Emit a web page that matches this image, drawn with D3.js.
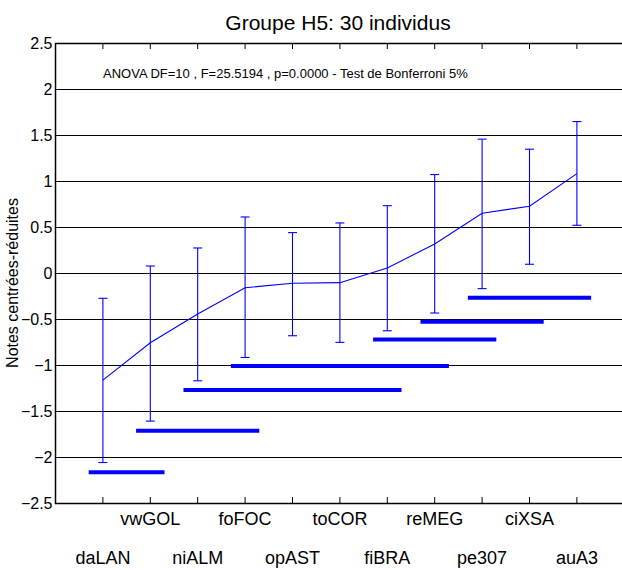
<!DOCTYPE html>
<html>
<head>
<meta charset="utf-8">
<script src="https://cdn.jsdelivr.net/npm/d3@7"></script>
<style>
  html, body { margin: 0; padding: 0; background: #fff; }
  svg { display: block; }
  text { font-family: "Liberation Sans", Arial, Helvetica, sans-serif; fill: #000; }
</style>
</head>
<body>
<svg id="chart" width="622" height="570"></svg>
<script>
// ---- data ----
const categories = ["daLAN","vwGOL","niALM","foFOC","opAST","toCOR","fiBRA","reMEG","pe307","ciXSA","auA3"];
const means  = [-1.164, -0.758, -0.446, -0.160, -0.112, -0.105, 0.054, 0.316, 0.650, 0.726, 1.080];
const upper  = [-0.275,  0.076,  0.272,  0.609,  0.439,  0.544, 0.732, 1.070, 1.455, 1.346, 1.646];
const lower  = [-2.060, -1.610, -1.172, -0.918, -0.682, -0.754, -0.628, -0.435, -0.170, 0.095, 0.519];
// Bonferroni homogeneous groups: first and last category index (1-based) and level
const groupStart = [1, 2, 3, 4, 7, 8, 9];
const groupEnd   = [2, 4, 7, 8, 9, 10, 11];
const groupLevel = [-2.167, -1.716, -1.273, -1.012, -0.722, -0.530, -0.269];
const yTicks = [-2.5, -2, -1.5, -1, -0.5, 0, 0.5, 1, 1.5, 2, 2.5];
const title = "Groupe H5: 30 individus";
const note = "ANOVA DF=10 , F=25.5194 , p=0.0000 - Test de Bonferroni 5%";
const yLabel = "Notes centrées-réduites";

// ---- layout ----
const svg = d3.select("#chart");
const pLeft = 55.5, pRight = 624.3, pTop = 43, pBottom = 503;
const x = d3.scaleLinear().domain([0, categories.length + 1]).range([pLeft, pRight]);
const y = d3.scaleLinear().domain([-2.5, 2.5]).range([pBottom, pTop]);
const blue = "#0000ff";

// gridlines
svg.append("g").selectAll("line").data(yTicks).join("line")
  .attr("x1", pLeft).attr("x2", pRight)
  .attr("y1", d => Math.round(y(d)) + 0.5).attr("y2", d => Math.round(y(d)) + 0.5)
  .attr("stroke", "#000").attr("stroke-width", 1.2);

// frame
svg.append("rect").attr("x", pLeft).attr("y", Math.round(pTop) + 0.5)
  .attr("width", pRight - pLeft).attr("height", Math.round(pBottom) - Math.round(pTop))
  .attr("fill", "none").attr("stroke", "#000").attr("stroke-width", 1.5);

// x ticks (bottom & top, inward)
const idx = d3.range(1, categories.length + 1);
svg.append("g").selectAll("line").data(idx).join("line")
  .attr("x1", d => x(d)).attr("x2", d => x(d))
  .attr("y1", pBottom).attr("y2", pBottom - 6)
  .attr("stroke", "#000").attr("stroke-width", 1);
svg.append("g").selectAll("line").data(idx).join("line")
  .attr("x1", d => x(d)).attr("x2", d => x(d))
  .attr("y1", pTop).attr("y2", pTop + 6)
  .attr("stroke", "#000").attr("stroke-width", 1);

// y tick labels
svg.append("g").selectAll("text").data(yTicks).join("text")
  .attr("x", pLeft - 3).attr("y", d => y(d)).attr("dy", "0.35em")
  .attr("text-anchor", "end").attr("font-size", 16)
  .text(d => d3.format("")(d));

// x tick labels in two rows
svg.append("g").selectAll("text").data(categories).join("text")
  .attr("x", (d, i) => x(i + 1))
  .attr("y", (d, i) => i % 2 === 1 ? 525 : 564)
  .attr("text-anchor", "middle").attr("font-size", 18)
  .text(d => d);

// error bars
const eb = svg.append("g").attr("stroke", blue).attr("stroke-width", 1.1).attr("fill", "none");
categories.forEach((c, i) => {
  const cx = x(i + 1);
  eb.append("line").attr("x1", cx).attr("x2", cx).attr("y1", y(upper[i])).attr("y2", y(lower[i]));
  eb.append("line").attr("x1", cx - 4.5).attr("x2", cx + 4.5).attr("y1", y(upper[i])).attr("y2", y(upper[i]));
  eb.append("line").attr("x1", cx - 4.5).attr("x2", cx + 4.5).attr("y1", y(lower[i])).attr("y2", y(lower[i]));
});

// mean line
svg.append("path")
  .attr("d", d3.line().x((d, i) => x(i + 1)).y(d => y(d))(means))
  .attr("fill", "none").attr("stroke", blue).attr("stroke-width", 1.1);

// Bonferroni group bars
svg.append("g").selectAll("line").data(groupLevel).join("line")
  .attr("x1", (d, i) => x(groupStart[i] - 0.3))
  .attr("x2", (d, i) => x(groupEnd[i] + 0.3))
  .attr("y1", d => y(d)).attr("y2", d => y(d))
  .attr("stroke", blue).attr("stroke-width", 4);

// title, note, y label
svg.append("text").attr("x", 338).attr("y", 30)
  .attr("text-anchor", "middle").attr("font-size", 21).text(title);
svg.append("text").attr("x", 103).attr("y", 78)
  .attr("font-size", 13).text(note);
svg.append("text")
  .attr("transform", "translate(18,283) rotate(-90)")
  .attr("text-anchor", "middle").attr("font-size", 16).text(yLabel);
</script>
</body>
</html>
